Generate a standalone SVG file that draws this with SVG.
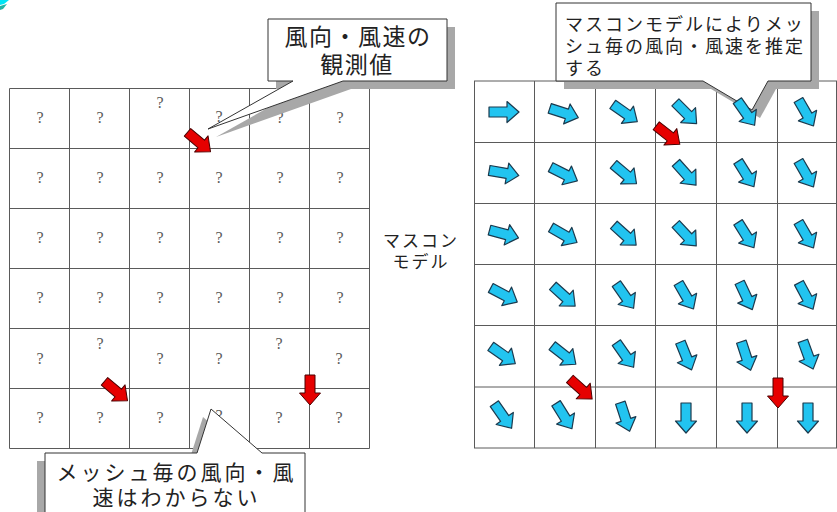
<svg xmlns="http://www.w3.org/2000/svg" xmlns:xlink="http://www.w3.org/1999/xlink" width="837" height="512" viewBox="0 0 837 512">
<style>
.grid line{stroke:#5a5a5a;stroke-width:1}
.q{font-family:"Liberation Serif",serif;font-size:16px;fill:#5a5a5a;text-anchor:middle}
.jp{font-family:"Noto Sans CJK JP",sans-serif;fill:#222}
.box{fill:#fff;stroke:#333;stroke-width:1}
.shadow{fill:#a8a8a8}
.blue{fill:#22C4F0;stroke:#1b3a4e;stroke-width:1.2;stroke-linejoin:round}
.red{fill:#E60000;stroke:#4a0000;stroke-width:1;stroke-linejoin:round}
</style>
<defs>
<path id="arr" d="M-15,-5 H3 V-10.5 L15,0 L3,10.5 V5 H-15 Z"/>
</defs>
<rect width="837" height="512" fill="#fff"/>
<g id="corner-deco">
<polygon points="0,0 9,0 4,4 0,5" fill="#00E5F5"/>
<polygon points="0,6 7,4 3,9 0,10" fill="#22B5A5"/>
</g>

<g id="left-grid" class="grid">
<line x1="9.5" y1="88.5" x2="369.5" y2="88.5"/>
<line x1="9.5" y1="148.5" x2="369.5" y2="148.5"/>
<line x1="9.5" y1="208.5" x2="369.5" y2="208.5"/>
<line x1="9.5" y1="268.5" x2="369.5" y2="268.5"/>
<line x1="9.5" y1="328.5" x2="369.5" y2="328.5"/>
<line x1="9.5" y1="388.5" x2="369.5" y2="388.5"/>
<line x1="9.5" y1="448.5" x2="369.5" y2="448.5"/>
<line x1="9.5" y1="88.5" x2="9.5" y2="448.5"/>
<line x1="69.5" y1="88.5" x2="69.5" y2="448.5"/>
<line x1="129.5" y1="88.5" x2="129.5" y2="448.5"/>
<line x1="189.5" y1="88.5" x2="189.5" y2="448.5"/>
<line x1="249.5" y1="88.5" x2="249.5" y2="448.5"/>
<line x1="309.5" y1="88.5" x2="309.5" y2="448.5"/>
<line x1="369.5" y1="88.5" x2="369.5" y2="448.5"/>
</g>
<g id="question-marks">
<text class="q" x="40" y="123">?</text><text class="q" x="100" y="123">?</text><text class="q" x="160" y="108">?</text><text class="q" x="219" y="122">?</text><text class="q" x="280" y="123">?</text><text class="q" x="340" y="123">?</text>
<text class="q" x="40" y="183">?</text><text class="q" x="100" y="183">?</text><text class="q" x="160" y="183">?</text><text class="q" x="219" y="183">?</text><text class="q" x="280" y="183">?</text><text class="q" x="340" y="183">?</text>
<text class="q" x="40" y="243">?</text><text class="q" x="100" y="243">?</text><text class="q" x="160" y="243">?</text><text class="q" x="219" y="243">?</text><text class="q" x="280" y="243">?</text><text class="q" x="340" y="243">?</text>
<text class="q" x="40" y="303">?</text><text class="q" x="100" y="303">?</text><text class="q" x="160" y="303">?</text><text class="q" x="219" y="303">?</text><text class="q" x="280" y="303">?</text><text class="q" x="340" y="303">?</text>
<text class="q" x="40" y="364">?</text><text class="q" x="100" y="349">?</text><text class="q" x="160" y="364">?</text><text class="q" x="219" y="364">?</text><text class="q" x="279" y="349">?</text><text class="q" x="339" y="364">?</text>
<text class="q" x="40" y="423">?</text><text class="q" x="100" y="423">?</text><text class="q" x="160" y="423">?</text><text class="q" x="219" y="421">?</text><text class="q" x="279" y="423">?</text><text class="q" x="339" y="423">?</text>
</g>

<g id="right-grid" class="grid">
<line x1="474" y1="81" x2="837" y2="81"/>
<line x1="474" y1="142.5" x2="837" y2="142.5"/>
<line x1="474" y1="203.5" x2="837" y2="203.5"/>
<line x1="474" y1="264.5" x2="837" y2="264.5"/>
<line x1="474" y1="325.5" x2="837" y2="325.5"/>
<line x1="474" y1="387" x2="837" y2="387"/>
<line x1="474" y1="448" x2="837" y2="448"/>
<line x1="474.5" y1="81" x2="474.5" y2="448"/>
<line x1="534.5" y1="81" x2="534.5" y2="448"/>
<line x1="595.5" y1="81" x2="595.5" y2="448"/>
<line x1="655.5" y1="81" x2="655.5" y2="448"/>
<line x1="716.5" y1="81" x2="716.5" y2="448"/>
<line x1="777.5" y1="81" x2="777.5" y2="448"/>
<line x1="836.5" y1="81" x2="836.5" y2="448"/>
</g>

<g id="label-mascon">
<text class="jp" font-size="17" letter-spacing="2" text-anchor="middle"><tspan x="421" y="247">マスコン</tspan><tspan x="421" y="268">モデル</tspan></text>
</g>

<g id="callout-observed">
<rect class="shadow" x="276" y="27" width="179" height="62"/>
<polygon class="shadow" points="301,89 216,137 351,89"/>
<polygon class="box" points="268,19 447,19 447,81 343,81 208,129 293,81 268,81"/>
<text class="jp" font-size="23" letter-spacing="1.5" text-anchor="middle"><tspan x="358" y="45">風向・風速の</tspan><tspan x="357" y="73">観測値</tspan></text>
</g>

<g id="callout-estimate">
<rect class="shadow" x="564" y="11" width="255" height="78"/>
<polygon class="shadow" points="711,89 760,118 776,89"/>
<polygon class="box" points="556,3 811,3 811,81 768,81 752,110 703,81 556,81"/>
<text class="jp" font-size="18" letter-spacing="2"><tspan x="565" y="31">マスコンモデルによりメッ</tspan><tspan x="565" y="53">シュ毎の風向・風速を推定</tspan><tspan x="565" y="75">する</tspan></text>
</g>

<g id="callout-unknown">
<rect class="shadow" x="37" y="461" width="260" height="60"/>
<polygon class="shadow" points="189,461 203,417 254,461"/>
<polygon class="box" points="45,453 197,453 211,409 262,453 305,453 305,520 45,520"/>
<text class="jp" font-size="21" letter-spacing="3" text-anchor="middle"><tspan x="176.5" y="480">メッシュ毎の風向・風</tspan><tspan x="176.5" y="505">速はわからない</tspan></text>
</g>

<g id="blue-arrows">
<use href="#arr" class="blue" transform="translate(504,112) rotate(0)"/>
<use href="#arr" class="blue" transform="translate(564,113) rotate(18)"/>
<use href="#arr" class="blue" transform="translate(625,113) rotate(35)"/>
<use href="#arr" class="blue" transform="translate(686,113) rotate(45)"/>
<use href="#arr" class="blue" transform="translate(746,113) rotate(55)"/>
<use href="#arr" class="blue" transform="translate(806,113) rotate(60)"/>

<use href="#arr" class="blue" transform="translate(504,173) rotate(10)"/>
<use href="#arr" class="blue" transform="translate(564,174) rotate(27)"/>
<use href="#arr" class="blue" transform="translate(625,174) rotate(40)"/>
<use href="#arr" class="blue" transform="translate(686,174) rotate(48)"/>
<use href="#arr" class="blue" transform="translate(746,174) rotate(58)"/>
<use href="#arr" class="blue" transform="translate(806,174) rotate(60)"/>

<use href="#arr" class="blue" transform="translate(504,234) rotate(15)"/>
<use href="#arr" class="blue" transform="translate(564,235) rotate(30)"/>
<use href="#arr" class="blue" transform="translate(625,235) rotate(42)"/>
<use href="#arr" class="blue" transform="translate(686,235) rotate(47)"/>
<use href="#arr" class="blue" transform="translate(746,235) rotate(58)"/>
<use href="#arr" class="blue" transform="translate(806,235) rotate(60)"/>

<use href="#arr" class="blue" transform="translate(504,295) rotate(28)"/>
<use href="#arr" class="blue" transform="translate(564,296) rotate(42)"/>
<use href="#arr" class="blue" transform="translate(625,296) rotate(55)"/>
<use href="#arr" class="blue" transform="translate(686,296) rotate(60)"/>
<use href="#arr" class="blue" transform="translate(746,296) rotate(65)"/>
<use href="#arr" class="blue" transform="translate(806,296) rotate(62)"/>

<use href="#arr" class="blue" transform="translate(503,355) rotate(35)"/>
<use href="#arr" class="blue" transform="translate(564,355) rotate(38)"/>
<use href="#arr" class="blue" transform="translate(625,355) rotate(55)"/>
<use href="#arr" class="blue" transform="translate(686,356) rotate(68)"/>
<use href="#arr" class="blue" transform="translate(746,356) rotate(72)"/>
<use href="#arr" class="blue" transform="translate(808,355) rotate(70)"/>

<use href="#arr" class="blue" transform="translate(503,416) rotate(55)"/>
<use href="#arr" class="blue" transform="translate(564,416) rotate(58)"/>
<use href="#arr" class="blue" transform="translate(625,417) rotate(72)"/>
<use href="#arr" class="blue" transform="translate(686,418) rotate(90)"/>
<use href="#arr" class="blue" transform="translate(747,418) rotate(90)"/>
<use href="#arr" class="blue" transform="translate(808,418) rotate(90)"/>
</g>

<g id="red-arrows">
<use href="#arr" class="red" transform="translate(199,142) rotate(40)"/>
<use href="#arr" class="red" transform="translate(116,391) rotate(40)"/>
<use href="#arr" class="red" transform="translate(310,390) rotate(90)"/>
<use href="#arr" class="red" transform="translate(668,135) rotate(38)"/>
<use href="#arr" class="red" transform="translate(581,389) rotate(42)"/>
<use href="#arr" class="red" transform="translate(778,393) rotate(90)"/>
</g>
</svg>
